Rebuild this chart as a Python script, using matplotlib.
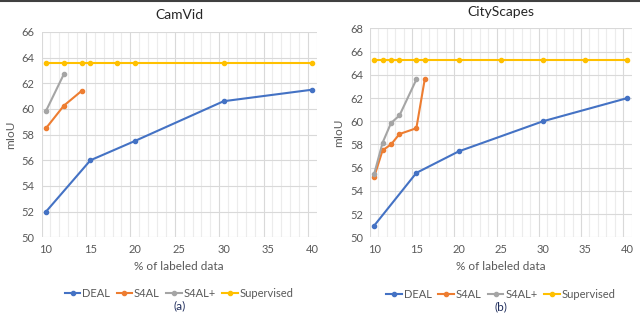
import numpy as np
import matplotlib.pyplot as plt
from matplotlib.lines import Line2D

plt.rcParams['font.family'] = ['Lato', 'DejaVu Sans']

# CamVid
cam_deal_x = [10, 15, 20, 30, 40]
cam_deal_y = [52.0, 56.0, 57.5, 60.6, 61.5]
cam_s4al_x = [10, 12, 14]
cam_s4al_y = [58.5, 60.25, 61.4]
cam_s4alp_x = [10, 12]
cam_s4alp_y = [59.85, 62.7]
cam_sup_x = [10, 12, 14, 15, 18, 20, 30, 40]
cam_sup_y = [63.6] * len(cam_sup_x)

# CityScapes
city_deal_x = [10, 15, 20, 30, 40]
city_deal_y = [51.0, 55.55, 57.4, 60.0, 62.0]
city_s4al_x = [10, 11, 12, 13, 15, 16]
city_s4al_y = [55.2, 57.5, 58.0, 58.9, 59.4, 63.65]
city_s4alp_x = [10, 11, 12, 13, 15]
city_s4alp_y = [55.45, 58.15, 59.85, 60.5, 63.6]
city_sup_x = [10, 11, 12, 13, 15, 16, 20, 25, 30, 35, 40]
city_sup_y = [65.3] * len(city_sup_x)

names = ['DEAL', 'S4AL', 'S4AL+', 'Supervised']
colors = ['#4472C4', '#ED7D31', '#A5A5A5', '#FFC000']
xticks = [10, 15, 20, 25, 30, 35, 40]

fig = plt.figure(figsize=(6.4, 3.15), dpi=100)
ax1 = fig.add_axes([0.065, 0.2467, 0.430, 0.652])
ax2 = fig.add_axes([0.578, 0.2467, 0.409, 0.663])

panels = [
    (ax1, 'CamVid', (50, 66), [(cam_deal_x, cam_deal_y), (cam_s4al_x, cam_s4al_y),
                               (cam_s4alp_x, cam_s4alp_y), (cam_sup_x, cam_sup_y)], '(a)'),
    (ax2, 'CityScapes', (50, 68), [(city_deal_x, city_deal_y), (city_s4al_x, city_s4al_y),
                                   (city_s4alp_x, city_s4alp_y), (city_sup_x, city_sup_y)], '(b)'),
]

grey = '#595959'
for ax, title, ylim, series, tag in panels:
    # excel-style grid: minor every 1, major every 5, offset by half a unit
    for gx in np.arange(9.5, 40.6, 1):
        major = abs((gx - 9.5) % 5) < 1e-6
        ax.axvline(gx, color='#d9d9d9' if major else '#ececec', lw=0.8, zorder=0)
    for gy in np.arange(ylim[0], ylim[1] + 0.1, 2):
        ax.axhline(gy, color='#d9d9d9', lw=0.8, zorder=0)
    for (xs, ys), c, n in zip(series, colors, names):
        ax.plot(xs, ys, color=c, lw=1.5, marker='o', ms=3, label=n, zorder=3)
    ax.set_xlim(9.5, 40.5)
    ax.set_ylim(*ylim)
    ax.set_xticks(xticks)
    ax.set_yticks(np.arange(ylim[0], ylim[1] + 0.1, 2))
    ax.tick_params(length=0, labelsize=8, colors=grey, pad=5)
    for s in ax.spines.values():
        s.set_visible(False)
    ax.set_title(title, fontsize=10, color='#262626', pad=9)
    ax.set_xlabel('% of labeled data', fontsize=8.5, color=grey, labelpad=4)
    ax.set_ylabel('mIoU', fontsize=8.5, color=grey, labelpad=4)
    handles = [Line2D([], [], color=c, lw=1.5, marker='o', ms=3) for c in colors]
    ax.legend(handles, names, loc='center', bbox_to_anchor=(0.5, -0.275), ncol=4,
              frameon=False, fontsize=8, labelcolor=grey, handlelength=1.4,
              handletextpad=0.15, columnspacing=0.6, borderaxespad=0, borderpad=0)
    ax.text(0.5, -0.335, tag, transform=ax.transAxes, ha='center', va='center',
            fontsize=8.5, color='#1f2d5c')

fig.add_artist(Line2D([0, 1], [0.998, 0.998], color='#404040', lw=1.5))

fig.savefig('out.png', dpi=100)
